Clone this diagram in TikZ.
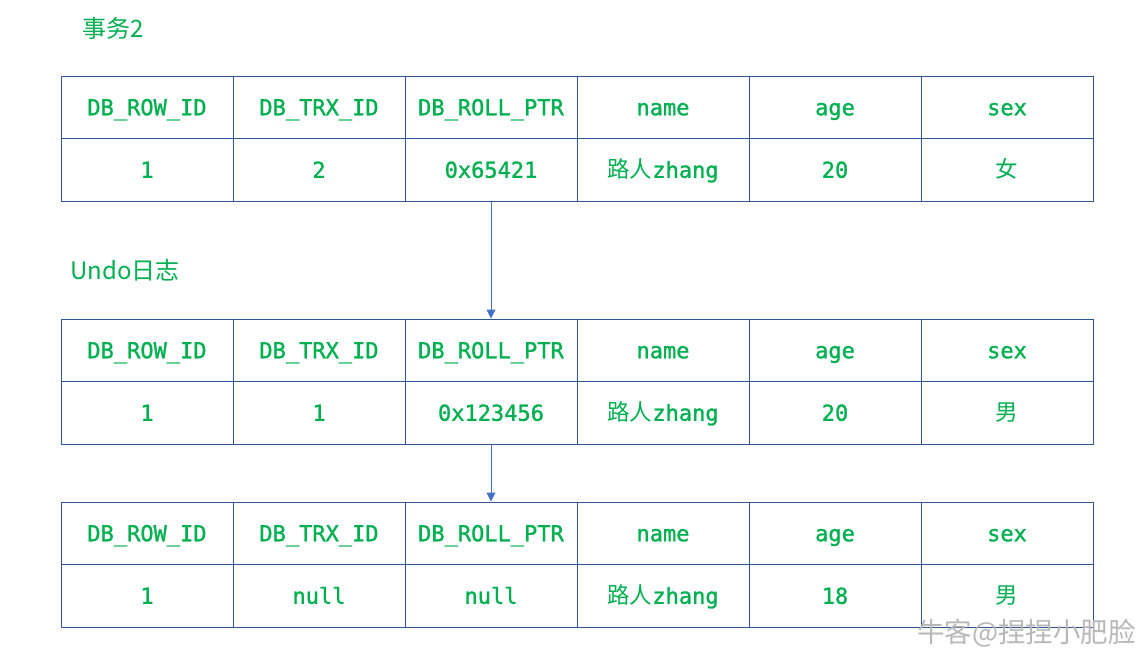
\documentclass[tikz,border=0pt]{standalone}
\usepackage{fontspec}
\setmonofont[FakeBold=1.2,AutoFakeBold=1.2]{DejaVu Sans Mono}
\newfontfamily\cjk{Noto Sans CJK SC}
\usetikzlibrary{arrows.meta}
\definecolor{rowgreen}{HTML}{00B050}
\definecolor{tblblue}{HTML}{2F5597}
\definecolor{linkblue}{HTML}{4472C4}
\newcommand\cn[1]{{\cjk\mdseries\fontsize{22.5}{24}\selectfont #1}}
\begin{document}
\begin{tikzpicture}[x=1pt,y=-1pt,
  cell/.style={draw=tblblue,line width=1pt,minimum width=172pt,minimum height=62.5pt,
    inner sep=0pt,text height=20pt,text depth=4pt,text=rowgreen,font=\ttfamily\bfseries\fontsize{22}{24}\selectfont},
  caption/.style={anchor=west,inner sep=0pt,text=rowgreen,font=\cjk\fontsize{24}{26}\selectfont},
  link/.style={draw=linkblue,line width=1pt,-{Triangle[length=9pt,width=9pt]}}]
\useasboundingbox (0,0) rectangle (1145,657);

% header rows
\foreach \t/\top in {1/76,2/319,3/502}{
  \foreach \h [count=\c] in {DB\_ROW\_ID,DB\_TRX\_ID,DB\_ROLL\_PTR,name,age,sex}
    \node[cell] (r\t-1-\c) at ({61+172*(\c-0.5)},{\top+31.25}) {\h};
}

% value rows
\foreach \v [count=\c] in {1,2,0x65421,\cn{路人}zhang,20,\cn{女}}
  \node[cell] (r1-2-\c) at ({61+172*(\c-0.5)},{76+93.75}) {\v};
\foreach \v [count=\c] in {1,1,0x123456,\cn{路人}zhang,20,\cn{男}}
  \node[cell] (r2-2-\c) at ({61+172*(\c-0.5)},{319+93.75}) {\v};
\foreach \v [count=\c] in {1,null,null,\cn{路人}zhang,18,\cn{男}}
  \node[cell] (r3-2-\c) at ({61+172*(\c-0.5)},{502+93.75}) {\v};

\node[caption] (trx) at (82,28) {事务2};
\node[caption] (undo) at (70,270) {Undo日志};

\draw[link] (r1-2-3.south) -- (r2-1-3.north);
\draw[link] (r2-2-3.south) -- (r3-1-3.north);

\node[anchor=west,inner sep=0pt,text=black!28,font=\cjk\fontsize{27.5}{29}\selectfont] (mark) at (917,633) {牛客@捏捏小肥脸};
\end{tikzpicture}
\end{document}
